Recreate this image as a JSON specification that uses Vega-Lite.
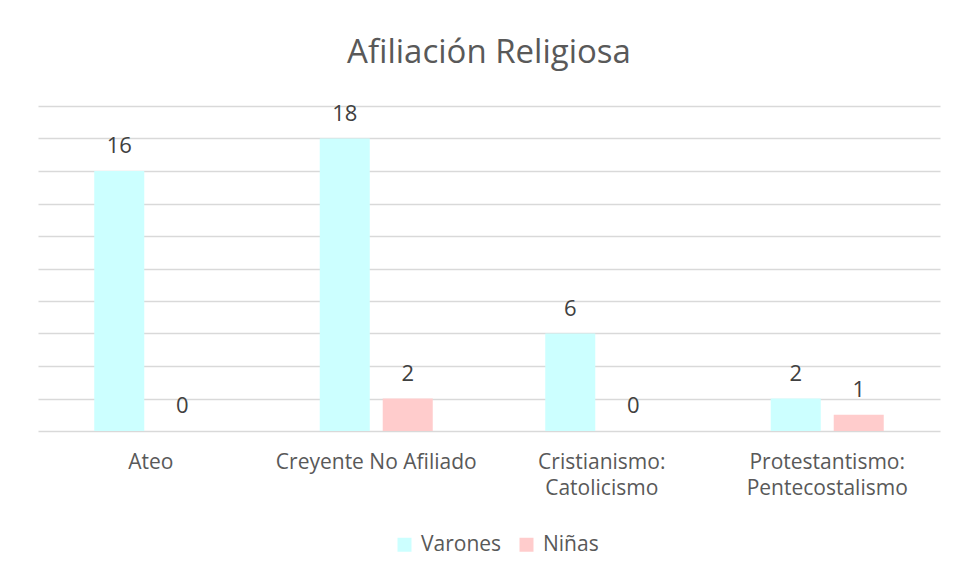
{
  "$schema": "https://vega.github.io/schema/vega-lite/v6.json",
  "width": 902,
  "height": 325,
  "autosize": "none",
  "padding": {"left": 38, "top": 106, "right": 19, "bottom": 148},
  "background": "white",
  "title": {
    "text": "Afiliación Religiosa",
    "font": "Open Sans",
    "fontSize": 33,
    "fontWeight": "normal",
    "color": "#595959",
    "anchor": "middle",
    "offset": 33
  },
  "config": {
    "view": {"stroke": null},
    "font": "Open Sans"
  },
  "data": {
    "values": [
      {"categoria": "Ateo", "grupo": "Varones", "valor": 16},
      {"categoria": "Ateo", "grupo": "Niñas", "valor": 0},
      {"categoria": "Creyente No Afiliado", "grupo": "Varones", "valor": 18},
      {"categoria": "Creyente No Afiliado", "grupo": "Niñas", "valor": 2},
      {"categoria": "Cristianismo: Catolicismo", "grupo": "Varones", "valor": 6},
      {"categoria": "Cristianismo: Catolicismo", "grupo": "Niñas", "valor": 0},
      {"categoria": "Protestantismo: Pentecostalismo", "grupo": "Varones", "valor": 2},
      {"categoria": "Protestantismo: Pentecostalismo", "grupo": "Niñas", "valor": 1}
    ]
  },
  "encoding": {
    "x": {
      "field": "categoria",
      "type": "nominal",
      "sort": null,
      "scale": {"paddingInner": 0, "paddingOuter": 0},
      "axis": {
        "title": null,
        "labelAngle": 0,
        "domain": false,
        "ticks": false,
        "labelFont": "Open Sans",
        "labelFontSize": 21,
        "labelColor": "#595959",
        "labelPadding": 20,
        "labelLineHeight": 26,
        "labelLimit": 0,
        "labelExpr": "indexof(datum.label, ': ') > 0 ? [slice(datum.label, 0, indexof(datum.label, ': ') + 1), slice(datum.label, indexof(datum.label, ': ') + 2)] : datum.label"
      }
    },
    "xOffset": {
      "field": "grupo",
      "type": "nominal",
      "sort": ["Varones", "Niñas"],
      "scale": {"paddingInner": 0.206, "paddingOuter": 0.893}
    },
    "y": {
      "field": "valor",
      "type": "quantitative",
      "scale": {"domain": [0, 20], "nice": false},
      "axis": {
        "title": null,
        "labels": false,
        "ticks": false,
        "domain": false,
        "grid": true,
        "values": [0, 2, 4, 6, 8, 10, 12, 14, 16, 18, 20],
        "gridColor": "#D9D9D9",
        "gridWidth": 1.3
      }
    }
  },
  "layer": [
    {
      "mark": {"type": "bar"},
      "encoding": {
        "color": {
          "field": "grupo",
          "type": "nominal",
          "sort": ["Varones", "Niñas"],
          "scale": {"domain": ["Varones", "Niñas"], "range": ["#CCFFFF", "#FFCCCC"]},
          "legend": {
            "title": null,
            "orient": "none",
            "legendX": 356,
            "legendY": 428,
            "padding": 0,
            "direction": "horizontal",
            "symbolType": "square",
            "symbolSize": 196,
            "symbolStrokeWidth": 0,
            "labelFont": "Open Sans",
            "labelFontSize": 21,
            "labelColor": "#595959",
            "columnPadding": 14,
            "labelOffset": 6
          }
        }
      }
    },
    {
      "mark": {
        "type": "text",
        "baseline": "alphabetic",
        "dy": -18,
        "font": "Open Sans",
        "fontSize": 22,
        "color": "#404040"
      },
      "encoding": {
        "text": {"field": "valor", "type": "quantitative"}
      }
    }
  ]
}
